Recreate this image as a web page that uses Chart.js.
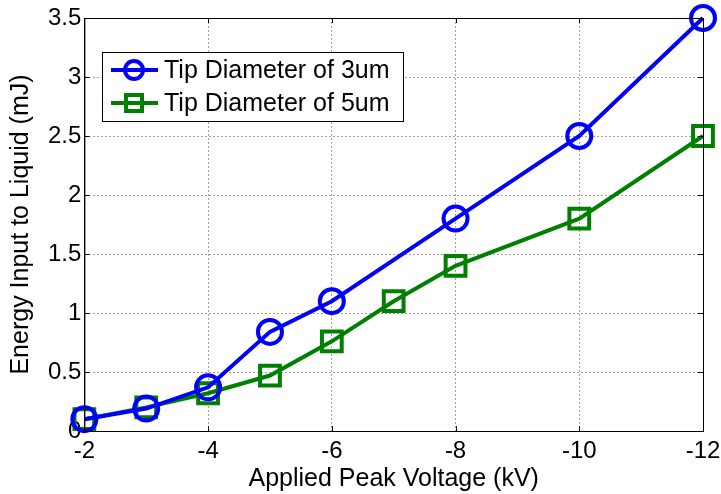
<!DOCTYPE html>
<html>
<head>
<meta charset="utf-8">
<script src="https://cdn.jsdelivr.net/npm/chart.js@4/dist/chart.umd.min.js"></script>
<style>
  html, body { margin: 0; padding: 0; background: #fff; }
  #wrap { width: 721px; height: 494px; }
</style>
</head>
<body>
<div id="wrap"><canvas id="energyChart"></canvas></div>
<script>
// Dữ liệu
const voltage3um = [-2, -3, -4, -5, -6, -8, -10, -12];
const energy3um = [0.1, 0.19, 0.37, 0.84, 1.1, 1.8, 2.5, 3.5];
const voltage5um = [-2, -3, -4, -5, -6, -7, -8, -10, -12];
const energy5um = [0.1, 0.2, 0.32, 0.47, 0.76, 1.1, 1.4, 1.8, 2.5];
const seriesLabels = ['Tip Diameter of 3um', 'Tip Diameter of 5um'];
const xTicks = [-2, -4, -6, -8, -10, -12];
const yTicks = [0, 0.5, 1, 1.5, 2, 2.5, 3, 3.5];

const FONT = '"Liberation Sans", Arial, sans-serif';

function toPoints(xs, ys) {
    return xs.map((x, i) => ({ x: x, y: ys[i] }));
}

// Khung + vạch chia kiểu MATLAB + chú thích bên trong
const boxPlugin = {
    id: 'boxPlugin',
    afterDatasetsDraw(chart) {
        const { ctx, chartArea: a, scales } = chart;
        ctx.save();
        ctx.strokeStyle = '#000';
        ctx.lineWidth = 1;
        ctx.strokeRect(a.left + 0.5, a.top + 0.5, a.right - a.left, a.bottom - a.top);
        ctx.beginPath();
        xTicks.forEach(v => {
            const px = Math.round(scales.x.getPixelForValue(v)) + 0.5;
            ctx.moveTo(px, a.bottom); ctx.lineTo(px, a.bottom - 5);
            ctx.moveTo(px, a.top); ctx.lineTo(px, a.top + 5);
        });
        yTicks.forEach(v => {
            const py = Math.round(scales.y.getPixelForValue(v)) + 0.5;
            ctx.moveTo(a.left, py); ctx.lineTo(a.left + 5, py);
            ctx.moveTo(a.right, py); ctx.lineTo(a.right - 5, py);
        });
        ctx.stroke();

        // chú thích
        const lx = 102, ly = 52, lw = 301, lh = 69;
        ctx.fillStyle = '#fff';
        ctx.fillRect(lx, ly, lw, lh);
        ctx.strokeRect(lx + 0.5, ly + 0.5, lw, lh);
        chart.data.datasets.forEach((ds, i) => {
            const y = ly + 18 + i * 33;
            ctx.strokeStyle = ds.borderColor;
            ctx.lineWidth = 4;
            ctx.beginPath();
            ctx.moveTo(lx + 9, y); ctx.lineTo(lx + 56, y);
            ctx.stroke();
            ctx.beginPath();
            if (ds.pointStyle === 'circle') {
                ctx.arc(lx + 32, y, 9, 0, Math.PI * 2);
            } else {
                ctx.rect(lx + 24, y - 8, 16, 16);
            }
            ctx.stroke();
            ctx.fillStyle = '#000';
            ctx.font = '25px ' + FONT;
            ctx.textBaseline = 'middle';
            ctx.fillText(ds.label, lx + 62, y + 1);
        });
        ctx.restore();
    }
};

new Chart(document.getElementById('energyChart'), {
    type: 'line',
    data: {
        datasets: [{
            label: seriesLabels[0],
            data: toPoints(voltage3um, energy3um),
            borderColor: '#0000ff',
            backgroundColor: 'transparent',
            borderWidth: 4,
            pointStyle: 'circle',
            pointRadius: 12,
            pointBorderWidth: 4,
            pointBackgroundColor: 'transparent',
            clip: false,
            tension: 0
        }, {
            label: seriesLabels[1],
            data: toPoints(voltage5um, energy5um),
            borderColor: '#008000',
            backgroundColor: 'transparent',
            borderWidth: 4,
            pointStyle: 'rect',
            pointRadius: 14,
            pointBorderWidth: 4,
            pointBackgroundColor: 'transparent',
            clip: false,
            tension: 0
        }]
    },
    options: {
        responsive: true,
        maintainAspectRatio: false,
        animation: false,
        layout: { padding: { left: 6, right: 18, top: 18, bottom: 2 } },
        plugins: {
            legend: { display: false },
            tooltip: { enabled: false }
        },
        scales: {
            x: {
                type: 'linear',
                reverse: true,
                min: -12,
                max: -2,
                afterBuildTicks: axis => { axis.ticks = xTicks.map(v => ({ value: v })); },
                afterFit: axis => { axis.paddingRight = 0; axis.paddingLeft = 0; },
                ticks: { color: '#000', padding: 8, font: { family: FONT, size: 24, lineHeight: 1 } },
                grid: { color: '#a0a0a0', drawTicks: false },
                border: { display: true, color: '#000', dash: [2, 2] },
                title: {
                    display: true,
                    text: 'Applied Peak Voltage (kV)',
                    color: '#000',
                    padding: { top: -4, bottom: 0 },
                    font: { family: FONT, size: 25, lineHeight: 1 }
                }
            },
            y: {
                min: 0,
                max: 3.5,
                afterBuildTicks: axis => { axis.ticks = yTicks.map(v => ({ value: v })); },
                ticks: {
                    color: '#000',
                    padding: 3,
                    font: { family: FONT, size: 24, lineHeight: 1 },
                    callback: v => String(v)
                },
                grid: { color: '#a0a0a0', drawTicks: false },
                border: { display: true, color: '#000', dash: [2, 2] },
                title: {
                    display: true,
                    text: 'Energy Input to Liquid (mJ)',
                    color: '#000',
                    padding: { top: 0, bottom: 9 },
                    font: { family: FONT, size: 25, lineHeight: 1.2 }
                }
            }
        }
    },
    plugins: [boxPlugin]
});
</script>
</body>
</html>
